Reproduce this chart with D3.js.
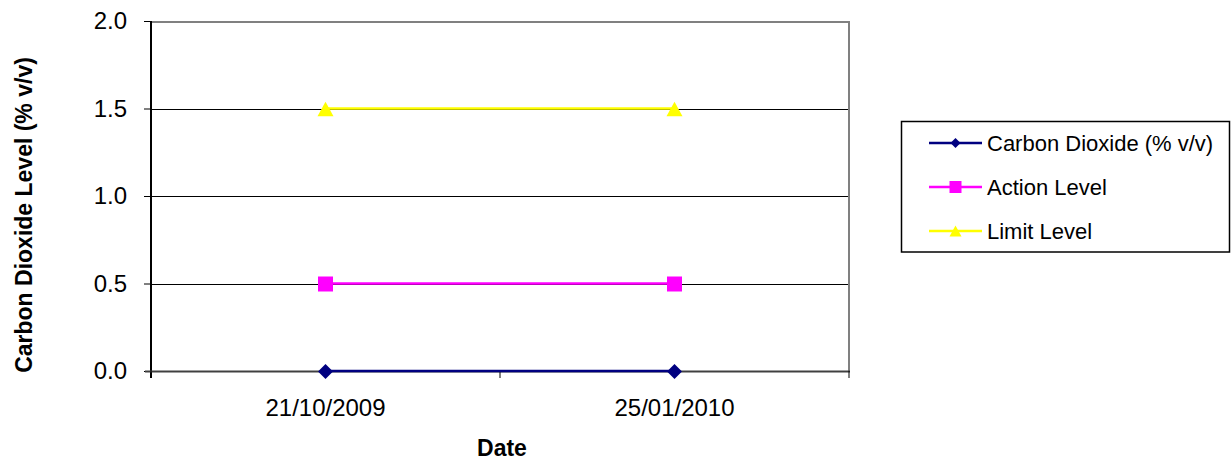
<!DOCTYPE html>
<html>
<head>
<meta charset="utf-8">
<script src="https://cdn.jsdelivr.net/npm/d3@7"></script>
<style>
  html, body { margin: 0; padding: 0; background: #fff; }
  svg { display: block; font-family: "Liberation Sans", Arial, sans-serif; }
</style>
</head>
<body>
<svg id="chart" width="1231" height="463"></svg>
<script>
const categories = ["21/10/2009", "25/01/2010"];
const carbonDioxide = [0.0, 0.0];
const actionLevel = [0.5, 0.5];
const limitLevel = [1.5, 1.5];
const yTicks = [0.0, 0.5, 1.0, 1.5, 2.0];
const seriesNames = ["Carbon Dioxide (% v/v)", "Action Level", "Limit Level"];

const series = [
  { name: seriesNames[0], values: carbonDioxide, color: "#000080", shape: "diamond" },
  { name: seriesNames[1], values: actionLevel, color: "#FF00FF", shape: "square" },
  { name: seriesNames[2], values: limitLevel, color: "#FFFF00", shape: "triangle" }
];

// marker path generator (s = full width)
function marker(shape, s) {
  const h = s / 2;
  const p = d3.path();
  if (shape === "diamond") {
    p.moveTo(0, -h); p.lineTo(h, 0); p.lineTo(0, h); p.lineTo(-h, 0); p.closePath();
  } else if (shape === "square") {
    p.rect(-h, -h, s, s);
  } else {
    const th = s * 0.9;
    p.moveTo(0, -th / 2); p.lineTo(h, th / 2); p.lineTo(-h, th / 2); p.closePath();
  }
  return p.toString();
}

const svg = d3.select("#chart");
const L = 151, R = 849, T = 21, B = 371;

const x = d3.scaleBand().domain(categories).range([L, R]).padding(0);
const y = d3.scaleLinear().domain([0, 2]).range([B, T]);

// gridlines
svg.append("g").selectAll("line").data(yTicks.slice(1, -1)).join("line")
  .attr("x1", L).attr("x2", R)
  .attr("y1", d => Math.round(y(d)) + 0.5).attr("y2", d => Math.round(y(d)) + 0.5)
  .attr("stroke", "#000").attr("stroke-width", 1);

// plot border top/right (gray)
svg.append("line").attr("x1", L).attr("x2", R + 1).attr("y1", T + 1).attr("y2", T + 1)
  .attr("stroke", "#808080").attr("stroke-width", 2);
svg.append("line").attr("x1", R).attr("x2", R).attr("y1", T).attr("y2", B)
  .attr("stroke", "#808080").attr("stroke-width", 2);

// y axis
const yAxis = d3.axisLeft(y).tickValues(yTicks).tickFormat(d3.format(".1f")).tickSize(7).tickPadding(17);
const gy = svg.append("g").attr("transform", `translate(${L},0)`).call(yAxis);
gy.select(".domain").attr("stroke", "#000").attr("stroke-width", 2).attr("d", `M0,${T}V${B + 7}`);
gy.selectAll(".tick line").attr("stroke", "#000").attr("stroke-width", 1);
gy.selectAll(".tick text").attr("font-size", 24).attr("fill", "#000")
  .attr("font-family", "Liberation Sans, Arial, sans-serif");

// x axis line
svg.append("line").attr("x1", L - 6).attr("x2", R + 1).attr("y1", B + 0.5).attr("y2", B + 0.5)
  .attr("stroke", "#404040").attr("stroke-width", 2);
// x boundary ticks
const boundaries = [x.range()[0]].concat(categories.map(c => x(c) + x.bandwidth()));
svg.append("g").selectAll("line").data(boundaries).join("line")
  .attr("x1", d => d).attr("x2", d => d).attr("y1", B).attr("y2", B + 7)
  .attr("stroke", "#000").attr("stroke-width", 1);
// x labels
const xAxis = d3.axisBottom(x).tickSize(0).tickPadding(28);
const gx = svg.append("g").attr("transform", `translate(0,${B})`).call(xAxis);
gx.select(".domain").remove();
gx.selectAll(".tick text").attr("font-size", 24).attr("fill", "#000")
  .attr("font-family", "Liberation Sans, Arial, sans-serif");

const cx = c => x(c) + x.bandwidth() / 2;

// series lines and markers
const line = d3.line().x((d, i) => cx(categories[i])).y(d => y(d));
series.slice().reverse().forEach(s => {
  svg.append("path").datum(s.values).attr("d", line)
    .attr("fill", "none").attr("stroke", s.color).attr("stroke-width", 2.5);
});
const plotSize = { diamond: 15, square: 15, triangle: 16 };
series.slice().reverse().forEach(s => {
  svg.append("g").selectAll("path").data(s.values).join("path")
    .attr("transform", (d, i) => `translate(${cx(categories[i])},${y(d) + 0.5})`)
    .attr("d", marker(s.shape, plotSize[s.shape]))
    .attr("fill", s.color);
});

// axis titles
svg.append("text").attr("x", 502).attr("y", 456).attr("text-anchor", "middle")
  .attr("font-size", 23).attr("font-weight", "bold").text("Date");
svg.append("text").attr("transform", "translate(32,215) rotate(-90)").attr("text-anchor", "middle")
  .attr("font-size", 23).attr("font-weight", "bold").text("Carbon Dioxide Level (% v/v)");

// legend
const lg = svg.append("g");
lg.append("rect").attr("x", 901.5).attr("y", 121.5).attr("width", 328).attr("height", 130.5)
  .attr("fill", "#fff").attr("stroke", "#000").attr("stroke-width", 1.5);
const ly = [143, 187, 231];
const legSize = { diamond: 10, square: 12, triangle: 12 };
series.forEach((s, i) => {
  lg.append("line").attr("x1", 929).attr("x2", 982).attr("y1", ly[i]).attr("y2", ly[i])
    .attr("stroke", s.color).attr("stroke-width", 2.5);
  lg.append("path").attr("transform", `translate(955.5,${ly[i]})`)
    .attr("d", marker(s.shape, legSize[s.shape])).attr("fill", s.color);
  lg.append("text").attr("x", 987).attr("y", ly[i]).attr("dy", "0.35em")
    .attr("font-size", 22).attr("fill", "#000").text(s.name);
});
</script>
</body>
</html>
